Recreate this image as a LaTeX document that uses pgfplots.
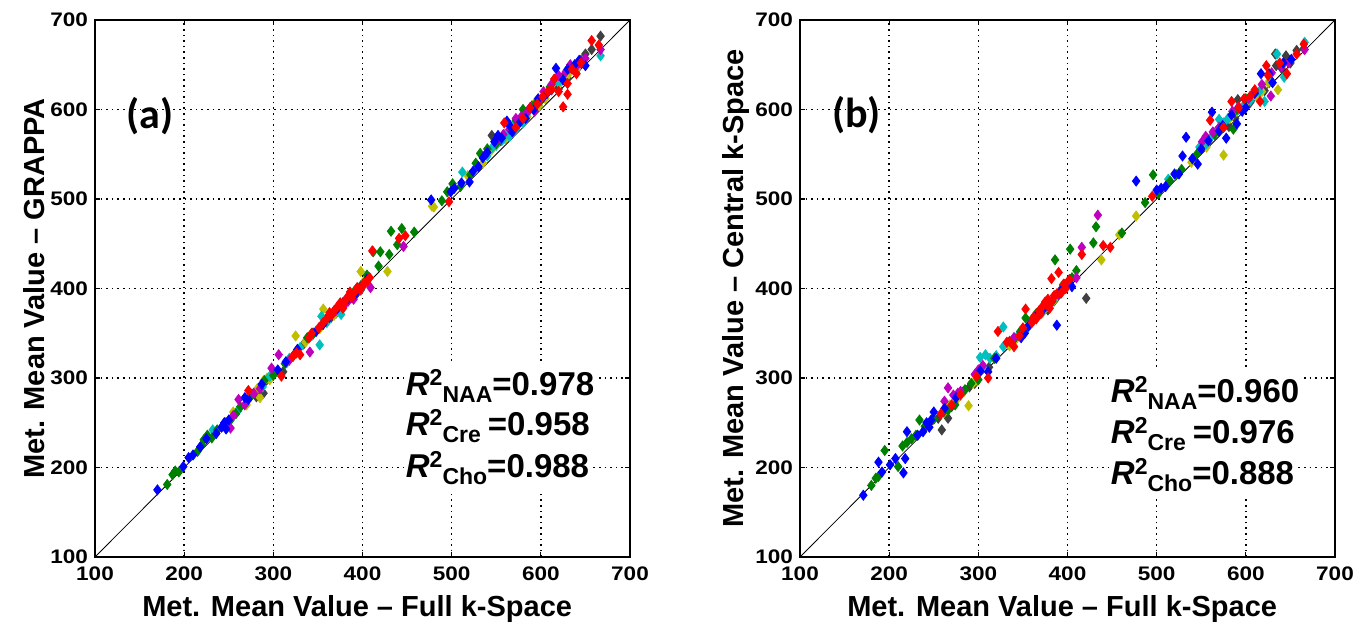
\documentclass[border=0pt]{standalone}
\usepackage{fontspec}
\setmainfont{Liberation Sans}
\newfontfamily\tickfont[FakeStretch=1.15]{Liberation Sans}
\newfontfamily\calib{Carlito}
\usepackage{pgfplots}
\pgfplotsset{compat=1.18}
\definecolor{mblue}{rgb}{0,0,1}
\definecolor{mgreen}{rgb}{0,0.5,0}
\definecolor{mred}{rgb}{1,0,0}
\definecolor{mcyan}{rgb}{0,0.75,0.75}
\definecolor{mmag}{rgb}{0.75,0,0.75}
\definecolor{myel}{rgb}{0.75,0.75,0}
\definecolor{mgray}{rgb}{0.25,0.25,0.25}
\newcommand{\rsq}[2]{\textit{R}\raisebox{5pt}{\fontsize{11.5}{11}\selectfont 2}\raisebox{-3.5pt}{\fontsize{11.5}{11}\selectfont #1}#2}
\pgfplotsset{
  panel/.style={
    scale only axis, width=267.5pt, height=268.5pt,
    xmin=100, xmax=700, ymin=100, ymax=700,
    xtick={100,200,...,700}, ytick={100,200,...,700},
    grid=major,
    major grid style={black, line width=0.8pt, dash pattern=on 0.8pt off 2pt},
    tick align=inside, major tick length=2.5pt,
    axis line style={line width=0.7pt},
    every tick/.style={black, line width=0.6pt},
    /pgf/number format/assume math mode=true,
    ticklabel style={font=\tickfont\bfseries\fontsize{9.8}{10}\selectfont},
    xticklabel style={yshift=-1.5pt},
    label style={font=\bfseries\fontsize{14.5}{16}\selectfont},
    xlabel style={at={(axis description cs:0.49,-0.1117)}, anchor=base},
  },
  sc/.style={only marks, mark=diamond*, mark size=2.5pt, color=#1},
}
\tikzset{rtxt/.style={anchor=base west, fill=white, inner xsep=1pt, inner ysep=3pt, font=\bfseries\fontsize{16.5}{20}\selectfont}}
\begin{document}
\begin{tikzpicture}
\path (-47.5pt,278.5pt) rectangle (638.5pt,-37pt);
% ---------------- Panel (a) ----------------
\begin{axis}[panel, at={(0,0)}, anchor=south west,
  xlabel={Met. Mean Value -- Full k-Space},
  ylabel={Met. Mean Value -- GRAPPA},
  ylabel style={at={(axis description cs:-0.0935,0.5)}, anchor=base},
]
\addplot[black, line width=0.4pt, no marks] coordinates {(100,100) (700,700)};
\addplot[sc=mgray] coordinates {
(245,248) (260,263) (281,279) (285,285) (289,283) (296,300) (311,307) (323,326)
(334,338) (344,350) (360,363) (370,372) (378,378) (387,390) (394,395) (545,571)
(555,565) (566,575) (580,590) (590,604) (600,610) (610,622) (620,623) (630,635)
(634,648) (640,650) (657,667) (667,682)
(352,356) (365,368) (382,384) (400,404) (560,572) (575,584) (596,608) (615,628) (625,637) (645,655) (650,662)};
\addplot[sc=myel] coordinates {
(236,240) (255,262) (270,270) (285,278) (289,297) (293,300) (296,298) (325,347)
(336,340) (356,377) (368,370) (380,382) (398,419) (403,410) (428,419) (478,492)
(480,491) (518,526) (535,540) (545,555) (560,567) (570,577) (585,592) (595,610)
(605,612) (613,628) (622,630) (630,638)
(352,355) (375,378) (390,396) (548,560) (575,586) (598,604) (640,645) (282,288)};
\addplot[sc=mcyan] coordinates {
(232,242) (262,266) (275,280) (296,302) (315,317) (318,322) (330,334) (344,348)
(352,337) (354,369) (376,371) (382,385) (390,392) (398,398) (512,530) (540,548)
(550,560) (557,566) (560,572) (565,570) (572,578) (580,585) (590,602) (603,615)
(620,630) (632,645) (667,660)
(360,362) (368,373) (546,558) (568,582) (585,596) (598,608) (612,622) (640,650) (288,290)};
\addplot[sc=mgreen] coordinates {
(181,181) (187,192) (190,196) (194,195) (215,218) (220,225) (222,231) (226,236)
(231,233) (237,242) (252,253) (258,260) (263,268) (276,282) (290,297) (300,303)
(313,316) (338,345) (362,370) (378,382) (386,393) (392,398) (398,403) (412,441)
(418,425) (420,441) (430,438) (432,464) (439,449) (444,467) (458,463) (489,498)
(495,508) (501,517) (510,514) (521,527) (532,551) (540,556) (566,579) (580,600)
(593,605) (600,610)
(345,350) (355,360) (370,376) (382,386) (405,415) (527,540) (550,562) (572,588) (610,625) (246,250)};
\addplot[sc=mmag] coordinates {
(252,244) (255,258) (261,276) (268,270) (278,283) (298,311) (306,326) (318,320)
(341,329) (357,362) (370,375) (378,380) (390,388) (400,402) (409,401) (446,447)
(538,550) (550,565) (558,572) (572,590) (584,596) (593,598) (603,620) (612,628)
(620,638) (628,642) (640,648) (645,652) (667,667)
(365,370) (384,386) (395,398) (565,578) (578,592) (598,610) (633,650) (650,657) (285,288)};
\addplot[sc=mblue] coordinates {
(170,175) (199,201) (205,211) (210,214) (218,223) (242,245) (245,250) (247,243)
(250,253) (268,278) (272,276) (287,293) (305,309) (314,318) (327,332) (348,352)
(363,368) (372,378) (384,389) (392,394) (401,405) (405,410) (477,499) (499,508)
(503,512) (511,518) (520,519) (524,531) (530,536) (535,546) (548,564) (556,568)
(562,587) (568,575) (576,585) (583,590) (592,600) (597,612) (607,618) (617,646)
(625,633) (638,650) (650,649)
(356,360) (378,384) (395,400) (540,552) (552,571) (565,582) (588,602) (603,614) (630,645) (643,655) (236,238) (225,232)};
\addplot[sc=mred] coordinates {
(272,286) (309,302) (322,324) (326,328) (330,326) (340,345) (351,356) (360,366)
(363,373) (368,375) (372,380) (375,384) (380,385) (382,389) (385,392) (388,390)
(391,396) (394,401) (398,399) (402,406) (405,408) (411,442) (441,456) (448,459)
(497,497) (559,585) (572,580) (588,602) (602,614) (612,622) (615,634) (620,620)
(625,603) (630,617) (630,629) (640,640) (657,677) (665,672)
(343,350) (356,362) (365,370) (378,378) (386,396) (396,400) (400,403) (408,412) (580,590) (596,606) (608,620) (635,645) (645,652)};
\node[font=\calib\bfseries\fontsize{21}{24}\selectfont] at (axis cs:162,593) {(a)};
\node[rtxt] at (axis cs:446,280.5) {\rsq{NAA}{=0.978}};
\node[rtxt] at (axis cs:446,235.3) {\rsq{Cre\hspace{3.5pt}}{=0.958}};
\node[rtxt] at (axis cs:446,189.2) {\rsq{Cho}{=0.988}};
\end{axis}
% ---------------- Panel (b) ----------------
\begin{axis}[panel, at={(352.5pt,0)}, anchor=south west,
  xlabel={Met. Mean Value -- Full k-Space},
  ylabel={Met. Mean Value -- Central k-Space},
  ylabel style={at={(axis description cs:-0.1065,0.5)}, anchor=base},
]
\addplot[black, line width=0.4pt, no marks] coordinates {(100,100) (700,700)};
\addplot[sc=mgray] coordinates {
(255,255) (259,242) (266,255) (270,268) (282,284) (290,290) (296,294) (312,312)
(343,345) (360,364) (370,372) (378,376) (388,390) (398,402) (421,389) (581,581)
(591,611) (597,603) (605,608) (621,621) (626,630) (634,649) (633,662) (650,652)
(657,666) (665,668)
(350,352) (365,368) (385,386) (392,395) (588,590) (612,616) (640,646) (645,660) (275,278)};
\addplot[sc=myel] coordinates {
(262,262) (276,276) (284,285) (289,269) (294,294) (298,298) (335,336) (342,343)
(360,365) (372,373) (385,387) (394,397) (400,405) (438,432) (458,460) (477,481)
(539,541) (556,558) (575,549) (582,590) (600,606) (612,614) (618,620) (636,622)
(350,353) (365,368) (378,380) (590,598) (605,612) (625,630) (268,270)};
\addplot[sc=mcyan] coordinates {
(260,262) (302,323) (308,326) (313,322) (320,325) (328,335) (328,357) (337,340)
(345,348) (352,352) (356,357) (372,374) (384,387) (513,522) (548,558) (556,562)
(566,575) (570,589) (580,590) (592,600) (605,610) (621,609) (635,662) (643,636)
(666,675)
(340,345) (362,364) (378,381) (560,568) (575,585) (598,605) (615,620) (628,632) (305,312)};
\addplot[sc=mgreen] coordinates {
(180,180) (185,188) (188,190) (195,219) (210,201) (215,224) (220,228) (225,232)
(230,236) (234,253) (261,262) (266,264) (274,270) (285,287) (292,294) (300,298)
(318,322) (340,343) (353,367) (365,372) (378,382) (386,432) (392,398) (403,444)
(410,420) (429,451) (432,469) (461,462) (487,496) (496,527) (502,506) (522,527)
(528,533) (545,550) (586,578) (600,612)
(347,352) (360,365) (372,378) (395,404) (405,412) (515,520) (565,572) (590,600) (250,254) (240,246)};
\addplot[sc=mmag] coordinates {
(262,274) (266,289) (272,281) (280,285) (296,304) (300,309) (305,314) (340,345)
(350,350) (365,368) (375,380) (390,394) (410,412) (416,446) (434,482) (551,564)
(555,570) (570,580) (585,598) (603,612) (610,620) (628,615) (629,641) (640,648)
(666,667)
(358,360) (370,374) (382,386) (398,404) (563,575) (592,603) (618,628) (648,652) (277,283)};
\addplot[sc=mblue] coordinates {
(171,169) (188,206) (192,195) (201,203) (207,210) (216,194) (218,210) (220,240)
(232,236) (242,250) (245,245) (247,253) (250,262) (262,266) (275,278) (302,308)
(311,307) (320,322) (348,345) (352,350) (365,370) (375,380) (388,359) (395,400)
(405,402) (477,520) (500,510) (505,512) (510,514) (520,528) (529,548) (533,569)
(540,545) (546,539) (558,565) (562,597) (574,582) (578,568) (590,584) (596,598)
(600,602) (617,640) (630,630) (642,652) (651,656)
(356,358) (370,373) (382,385) (392,396) (525,528) (550,556) (570,576) (584,594) (610,618) (626,640) (238,240)};
\addplot[sc=mred] coordinates {
(258,260) (270,270) (280,281) (298,302) (311,300) (322,352) (332,340) (340,335)
(346,347) (353,377) (360,362) (365,366) (368,375) (372,380) (375,385) (378,388)
(380,378) (382,411) (385,392) (390,418) (393,395) (398,400) (416,438) (440,448)
(448,446) (495,503) (560,588) (584,609) (598,612) (605,615) (616,609) (623,649)
(625,638) (646,640) (657,662) (665,673)
(335,341) (350,356) (362,368) (370,372) (376,382) (383,386) (388,394) (396,405) (402,410) (575,580) (592,602) (610,622) (638,652)};
\node[font=\calib\bfseries\fontsize{21}{24}\selectfont] at (axis cs:163.5,594) {(b)};
\node[rtxt] at (axis cs:446,272.5) {\rsq{NAA}{=0.960}};
\node[rtxt] at (axis cs:446,226.5) {\rsq{Cre\hspace{3.5pt}}{=0.976}};
\node[rtxt] at (axis cs:446,181) {\rsq{Cho}{=0.888}};
\end{axis}
\end{tikzpicture}
\end{document}
